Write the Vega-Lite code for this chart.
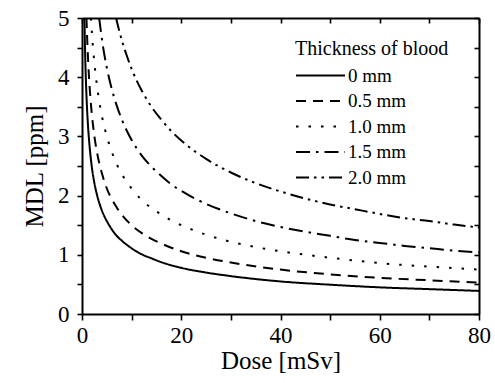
{
  "$schema": "https://vega.github.io/schema/vega-lite/v6.json",
  "width": 397,
  "height": 296,
  "autosize": "none",
  "padding": {"left": 82, "top": 18, "right": 16, "bottom": 69},
  "background": "white",
  "config": {
    "font": "Liberation Serif",
    "view": {"stroke": null},
    "axis": {
      "domainColor": "black", "domainWidth": 2,
      "tickColor": "black", "tickWidth": 1.6,
      "labelColor": "black", "labelFont": "Liberation Serif", "labelFontSize": 23,
      "titleColor": "black", "titleFont": "Liberation Serif", "titleFontSize": 25, "titleFontWeight": "normal",
      "grid": false
    },
    "legend": {
      "titleFont": "Liberation Serif", "titleFontSize": 20, "titleFontWeight": "normal", "titleColor": "black",
      "labelFont": "Liberation Serif", "labelFontSize": 19, "labelColor": "black"
    }
  },
  "data": {"values": [
    {"t":"0 mm","dose":0.49,"mdl":5.0},{"t":"0 mm","dose":0.6,"mdl":4.52},{"t":"0 mm","dose":0.7,"mdl":4.18},{"t":"0 mm","dose":0.8,"mdl":3.91},{"t":"0 mm","dose":1,"mdl":3.5},{"t":"0 mm","dose":1.25,"mdl":3.13},{"t":"0 mm","dose":1.5,"mdl":2.86},{"t":"0 mm","dose":2,"mdl":2.47},{"t":"0 mm","dose":2.5,"mdl":2.21},{"t":"0 mm","dose":3,"mdl":2.02},{"t":"0 mm","dose":4,"mdl":1.75},{"t":"0 mm","dose":5,"mdl":1.57},{"t":"0 mm","dose":6,"mdl":1.43},{"t":"0 mm","dose":7,"mdl":1.32},{"t":"0 mm","dose":8,"mdl":1.24},{"t":"0 mm","dose":10,"mdl":1.11},{"t":"0 mm","dose":12,"mdl":1.01},{"t":"0 mm","dose":14,"mdl":0.94},{"t":"0 mm","dose":16,"mdl":0.875},{"t":"0 mm","dose":20,"mdl":0.78},{"t":"0 mm","dose":25,"mdl":0.70},{"t":"0 mm","dose":30,"mdl":0.64},{"t":"0 mm","dose":40,"mdl":0.55},{"t":"0 mm","dose":50,"mdl":0.495},{"t":"0 mm","dose":60,"mdl":0.45},{"t":"0 mm","dose":70,"mdl":0.42},{"t":"0 mm","dose":80,"mdl":0.39},
    {"t":"0.5 mm","dose":0.9,"mdl":5.0},{"t":"0.5 mm","dose":1,"mdl":4.75},{"t":"0.5 mm","dose":1.25,"mdl":4.25},{"t":"0.5 mm","dose":1.5,"mdl":3.88},{"t":"0.5 mm","dose":1.75,"mdl":3.59},{"t":"0.5 mm","dose":2,"mdl":3.36},{"t":"0.5 mm","dose":2.5,"mdl":3.0},{"t":"0.5 mm","dose":3,"mdl":2.74},{"t":"0.5 mm","dose":4,"mdl":2.38},{"t":"0.5 mm","dose":5,"mdl":2.12},{"t":"0.5 mm","dose":6,"mdl":1.94},{"t":"0.5 mm","dose":7,"mdl":1.80},{"t":"0.5 mm","dose":8,"mdl":1.68},{"t":"0.5 mm","dose":10,"mdl":1.50},{"t":"0.5 mm","dose":12,"mdl":1.37},{"t":"0.5 mm","dose":14,"mdl":1.27},{"t":"0.5 mm","dose":16,"mdl":1.19},{"t":"0.5 mm","dose":20,"mdl":1.06},{"t":"0.5 mm","dose":25,"mdl":0.95},{"t":"0.5 mm","dose":30,"mdl":0.87},{"t":"0.5 mm","dose":40,"mdl":0.75},{"t":"0.5 mm","dose":50,"mdl":0.67},{"t":"0.5 mm","dose":60,"mdl":0.61},{"t":"0.5 mm","dose":70,"mdl":0.57},{"t":"0.5 mm","dose":80,"mdl":0.53},
    {"t":"1.0 mm","dose":1.8,"mdl":5.0},{"t":"1.0 mm","dose":2,"mdl":4.74},{"t":"1.0 mm","dose":2.5,"mdl":4.24},{"t":"1.0 mm","dose":3,"mdl":3.87},{"t":"1.0 mm","dose":3.5,"mdl":3.58},{"t":"1.0 mm","dose":4,"mdl":3.35},{"t":"1.0 mm","dose":5,"mdl":3.0},{"t":"1.0 mm","dose":6,"mdl":2.74},{"t":"1.0 mm","dose":7,"mdl":2.53},{"t":"1.0 mm","dose":8,"mdl":2.37},{"t":"1.0 mm","dose":9,"mdl":2.23},{"t":"1.0 mm","dose":10,"mdl":2.12},{"t":"1.0 mm","dose":12,"mdl":1.93},{"t":"1.0 mm","dose":14,"mdl":1.79},{"t":"1.0 mm","dose":16,"mdl":1.68},{"t":"1.0 mm","dose":18,"mdl":1.58},{"t":"1.0 mm","dose":20,"mdl":1.50},{"t":"1.0 mm","dose":25,"mdl":1.34},{"t":"1.0 mm","dose":30,"mdl":1.22},{"t":"1.0 mm","dose":35,"mdl":1.13},{"t":"1.0 mm","dose":40,"mdl":1.06},{"t":"1.0 mm","dose":50,"mdl":0.95},{"t":"1.0 mm","dose":60,"mdl":0.86},{"t":"1.0 mm","dose":70,"mdl":0.80},{"t":"1.0 mm","dose":80,"mdl":0.75},
    {"t":"1.5 mm","dose":3.46,"mdl":5.0},{"t":"1.5 mm","dose":4,"mdl":4.65},{"t":"1.5 mm","dose":5,"mdl":4.16},{"t":"1.5 mm","dose":6,"mdl":3.80},{"t":"1.5 mm","dose":7,"mdl":3.52},{"t":"1.5 mm","dose":8,"mdl":3.29},{"t":"1.5 mm","dose":9,"mdl":3.10},{"t":"1.5 mm","dose":10,"mdl":2.94},{"t":"1.5 mm","dose":12,"mdl":2.68},{"t":"1.5 mm","dose":14,"mdl":2.49},{"t":"1.5 mm","dose":16,"mdl":2.33},{"t":"1.5 mm","dose":18,"mdl":2.19},{"t":"1.5 mm","dose":20,"mdl":2.08},{"t":"1.5 mm","dose":25,"mdl":1.86},{"t":"1.5 mm","dose":30,"mdl":1.70},{"t":"1.5 mm","dose":35,"mdl":1.57},{"t":"1.5 mm","dose":40,"mdl":1.47},{"t":"1.5 mm","dose":45,"mdl":1.39},{"t":"1.5 mm","dose":50,"mdl":1.32},{"t":"1.5 mm","dose":55,"mdl":1.25},{"t":"1.5 mm","dose":60,"mdl":1.20},{"t":"1.5 mm","dose":65,"mdl":1.15},{"t":"1.5 mm","dose":70,"mdl":1.11},{"t":"1.5 mm","dose":75,"mdl":1.07},{"t":"1.5 mm","dose":80,"mdl":1.04},
    {"t":"2.0 mm","dose":6.86,"mdl":5.0},{"t":"2.0 mm","dose":8,"mdl":4.63},{"t":"2.0 mm","dose":9,"mdl":4.37},{"t":"2.0 mm","dose":10,"mdl":4.14},{"t":"2.0 mm","dose":12,"mdl":3.78},{"t":"2.0 mm","dose":14,"mdl":3.50},{"t":"2.0 mm","dose":16,"mdl":3.28},{"t":"2.0 mm","dose":18,"mdl":3.09},{"t":"2.0 mm","dose":20,"mdl":2.93},{"t":"2.0 mm","dose":25,"mdl":2.62},{"t":"2.0 mm","dose":30,"mdl":2.39},{"t":"2.0 mm","dose":35,"mdl":2.21},{"t":"2.0 mm","dose":40,"mdl":2.07},{"t":"2.0 mm","dose":45,"mdl":1.95},{"t":"2.0 mm","dose":50,"mdl":1.85},{"t":"2.0 mm","dose":55,"mdl":1.77},{"t":"2.0 mm","dose":60,"mdl":1.69},{"t":"2.0 mm","dose":65,"mdl":1.62},{"t":"2.0 mm","dose":70,"mdl":1.57},{"t":"2.0 mm","dose":75,"mdl":1.51},{"t":"2.0 mm","dose":80,"mdl":1.46}
  ]},
  "layer": [
    {
      "mark": {"type": "line", "color": "black", "strokeWidth": 2, "interpolate": "monotone", "clip": true, "strokeCap": "butt"},
      "encoding": {
        "x": {"field": "dose", "type": "quantitative", "scale": {"domain": [0, 80], "nice": false},
              "axis": {"orient": "bottom", "title": "Dose [mSv]", "values": [0,10,20,30,40,50,60,70,80],
                       "labelExpr": "datum.value % 20 === 0 ? format(datum.value, 'd') : ''", "tickSize": 6, "labelPadding": 4, "titlePadding": 1, "labelFlush": false}},
        "y": {"field": "mdl", "type": "quantitative", "scale": {"domain": [0, 5], "nice": false},
              "axis": {"orient": "left", "title": "MDL [ppm]", "values": [0,0.5,1,1.5,2,2.5,3,3.5,4,4.5,5],
                       "labelExpr": "datum.value % 1 === 0 ? format(datum.value, 'd') : ''", "tickSize": 5, "labelPadding": 8, "titlePadding": 10, "labelFlush": false}},
        "strokeDash": {"field": "t", "type": "nominal",
          "scale": {"domain": ["0 mm", "0.5 mm", "1.0 mm", "1.5 mm", "2.0 mm"],
                    "range": [[1, 0], [10, 7], [2.5, 10], [14, 6, 2.5, 6], [13, 5, 2.5, 5, 2.5, 5]]},
          "legend": {"title": "Thickness of blood", "orient": "none", "legendX": 213, "legendY": 21,
                     "symbolType": "stroke", "symbolSize": 2401, "symbolStrokeWidth": 2, "symbolStrokeColor": "black",
                     "clipHeight": 19, "rowPadding": 5.5, "labelOffset": 2, "titlePadding": 7, "padding": 0}}
      }
    },
    {
      "mark": {"type": "line", "opacity": 0, "clip": true},
      "encoding": {
        "x": {"field": "dose", "type": "quantitative",
              "axis": {"orient": "top", "title": null, "labels": false, "values": [0,10,20,30,40,50,60,70,80], "tickSize": -5}},
        "y": {"field": "mdl", "type": "quantitative",
              "axis": {"orient": "right", "title": null, "labels": false, "values": [0,0.5,1,1.5,2,2.5,3,3.5,4,4.5,5], "tickSize": -5}},
        "detail": {"field": "t"}
      }
    }
  ],
  "resolve": {"axis": {"x": "independent", "y": "independent"}}
}
